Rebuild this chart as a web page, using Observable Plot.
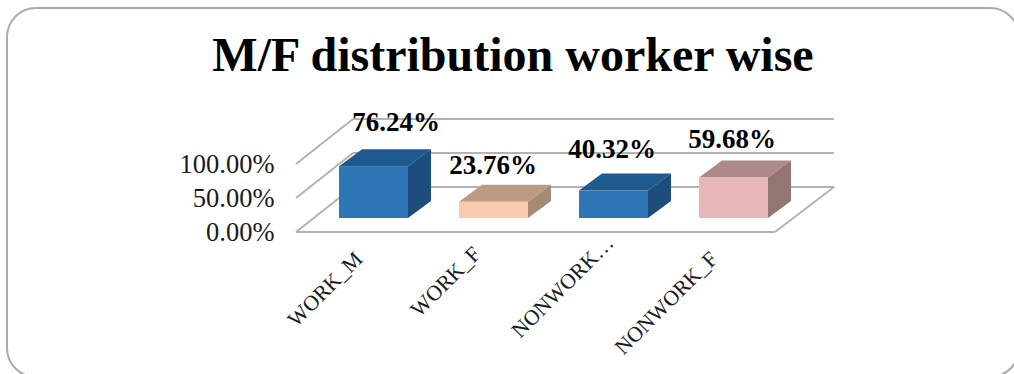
<!DOCTYPE html>
<html>
<head>
<meta charset="utf-8">
<script src="https://cdn.jsdelivr.net/npm/d3@7"></script>
<script src="https://cdn.jsdelivr.net/npm/@observablehq/plot@0.6"></script>
<style>
  html, body { margin: 0; padding: 0; background: #fff; }
  #page { position: relative; width: 1014px; height: 374px; overflow: hidden; font-family: "Liberation Serif", serif; }
  #frame { position: absolute; left: 6px; top: 7px; width: 1014px; height: 371px; box-sizing: border-box; border: 2px solid #ababab; border-radius: 30px; }
  #title { position: absolute; left: 0; top: 26px; width: 1026px; text-align: center; font-size: 48px; line-height: 58px; font-weight: bold; color: #000; }
  #chart { position: absolute; left: 0; top: 0; }
  #chart svg { display: block; }
</style>
</head>
<body>
<div id="page">
  <div id="frame"></div>
  <div id="title">M/F distribution worker wise</div>
  <div id="chart"></div>
</div>
<script>
const categories = ["WORK_M", "WORK_F", "NONWORK_M", "NONWORK_F"];
const axisLabels = ["WORK_M", "WORK_F", "NONWORK…", "NONWORK_F"];
const shares = [76.24, 23.76, 40.32, 59.68];
const yTicks = [0, 50, 100];

// styling tables
const frontColors = ["#2e75b6", "#f8cbad", "#2e75b6", "#e6b8b7"];
const topColors = ["#1f5a8f", "#bc9a83", "#1f5a8f", "#ae8b8a"];
const sideColors = ["#1c4d7c", "#a58a76", "#1c4d7c", "#937574"];
const labelDx = [22, -1, -2, -2];
const labelDy = [-44, -37, -42, -39];
const axisDx = [-15, -17, -4, -20];
const axisDy = [37, 32, 21, 37];

const depthX = 23, depthY = -17;       // bar depth in px
const gray = "#b3b3b3";
const table = categories.map((c, i) => ({category: c, axis: axisLabels[i], share: shares[i], i}));
const pct = (v) => v.toFixed(2) + "%";

const svgEl = (name, attrs, parent) => {
  const el = document.createElementNS("http://www.w3.org/2000/svg", name);
  for (const k in attrs) el.setAttribute(k, attrs[k]);
  if (parent) parent.appendChild(el);
  return el;
};

// Walls and floor of the 3D chart box, derived from the y scale
const walls = (index, {x, y}) => {
  const g = svgEl("g", {fill: "none", stroke: gray, "stroke-width": 2});
  const [x0, x1] = x.range();
  const fl = x0 + 8, bl = x0 + 65, fr = x1 - 44, br = x1 + 15;
  const line = (a, b, c, d) => svgEl("line", {x1: a, y1: b, x2: c, y2: d}, g);
  for (const t of yTicks) {
    line(fl, y(t) + 14, bl, y(t) - 31);
    line(bl, y(t) - 31, br, y(t) - 31);
  }
  line(fl, y(0) + 14, fr, y(0) + 14);
  line(fr, y(0) + 14, br, y(0) - 31);
  return g;
};

// Top and side faces of each box, derived from the x and y scales
const faces = (index, {x, y}) => {
  const g = svgEl("g", {});
  const w = x.bandwidth();
  table.forEach((d) => {
    const l = x(d.category), r = l + w, t = y(d.share), b = y(0);
    svgEl("polygon", {fill: topColors[d.i], points: [[l, t], [r, t], [r + depthX, t + depthY], [l + depthX, t + depthY]].join(" ")}, g);
    svgEl("polygon", {fill: sideColors[d.i], points: [[r, t], [r + depthX, t + depthY], [r + depthX, b + depthY], [r, b]].join(" ")}, g);
  });
  return g;
};

const plot = Plot.plot({
  width: 1014,
  height: 374,
  marginLeft: 288,
  marginRight: 195,
  marginTop: 0,
  marginBottom: 0,
  style: {fontFamily: '"Liberation Serif", serif', background: "transparent", overflow: "visible"},
  x: {domain: categories, range: [288, 819], padding: 0.425, axis: null},
  y: {domain: [0, 100], range: [218, 150], axis: null},
  marks: [
    walls,
    faces,
    Plot.barY(table, {x: "category", y: "share", fill: (d) => frontColors[d.i]}),
    Plot.axisY({
      ticks: yTicks,
      tickFormat: pct,
      tickSize: 0,
      tickPadding: 14,
      dy: 14,
      fontSize: 26.5,
      fill: "#1a1a1a",
      label: null
    }),
    ...table.map((d) => Plot.text([d], {
      x: "category", y: "share", text: (e) => pct(e.share),
      dx: labelDx[d.i], dy: labelDy[d.i],
      fontSize: 27, fontWeight: "bold", fill: "#000"
    })),
    ...table.map((d) => Plot.text([d], {
      x: "category", y: () => 0, text: "axis",
      dx: axisDx[d.i], dy: axisDy[d.i],
      rotate: -45, textAnchor: "end",
      fontSize: 21.5, fill: "#1a1a1a"
    }))
  ]
});
document.getElementById("chart").appendChild(plot);
</script>
</body>
</html>
